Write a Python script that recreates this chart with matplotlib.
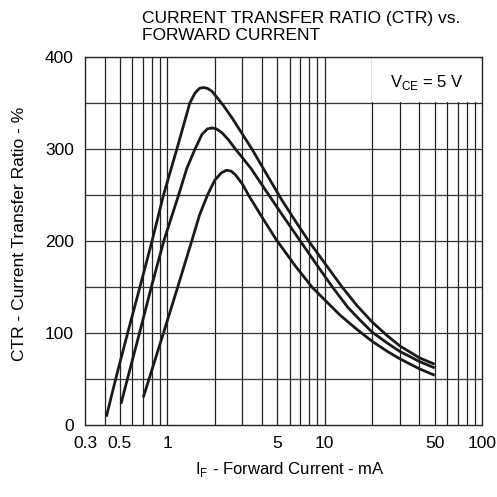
import matplotlib
matplotlib.use("Agg")
import matplotlib.pyplot as plt
from matplotlib.patches import Rectangle
from matplotlib.ticker import FixedLocator, NullFormatter

plt.rcParams['font.family'] = ['Liberation Sans', 'DejaVu Sans']
plt.rcParams['mathtext.fontset'] = 'custom'
plt.rcParams['mathtext.rm'] = 'Liberation Sans'

# CTR curves (IF in mA, CTR in %)
if_top = [0.41, 0.47, 0.56, 0.67, 0.80, 0.946, 1.15, 1.39, 1.50, 1.60, 1.70, 1.80,
          1.92, 2.05, 2.26, 2.60, 3.45, 4.3, 5.37, 6.5, 7.91, 10, 12.9, 16, 20,
          25, 30, 40, 50]
ctr_top = [9, 50, 100, 150, 200, 250, 300, 350, 361, 366, 367, 366,
           363, 357, 348, 333, 300, 272, 244, 222, 200, 176, 150, 130, 112,
           97, 86, 73, 66]

if_mid = [0.508, 0.558, 0.666, 0.792, 0.95, 1.18, 1.33, 1.50, 1.66, 1.80, 1.92, 2.05,
          2.22, 2.45, 2.71, 3.4, 4.3, 5.5, 7.0, 9, 11.2, 14, 17, 20,
          25, 30, 40, 50]
ctr_mid = [23, 50, 100, 150, 200, 250, 279, 300, 316, 322, 323, 322,
           318, 310, 300, 279, 253, 226, 200, 173, 150, 128, 113, 101,
           89, 80, 69, 62]

if_low = [0.704, 0.766, 0.946, 1.165, 1.43, 1.60, 1.80, 2.0, 2.2, 2.37, 2.55, 2.71,
          3.0, 3.28, 4.0, 4.9, 6.5, 8.3, 10, 12.6, 16, 20, 25, 30, 40, 50]
ctr_low = [30, 50, 100, 150, 200, 228, 250, 266, 274, 277, 276, 272,
           262, 250, 226, 202, 173, 150, 136, 119, 104, 91, 80, 72, 61, 54]

x_ticks = [0.3, 0.5, 1, 5, 10, 50, 100]
x_labels = ['0.3', '0.5', '1', '5', '10', '50', '100']
x_grid = [0.4, 0.5, 0.6, 0.7, 0.8, 0.9, 1, 2, 3, 4, 5, 6, 7, 8, 9, 10,
          20, 30, 40, 50, 60, 70, 80, 90]
y_ticks = [0, 100, 200, 300, 400]
y_grid = [50, 100, 150, 200, 250, 300, 350]

fig = plt.figure(figsize=(4.97, 4.97), dpi=100)
ax = fig.add_axes([0.171, 0.145, 0.799, 0.74])

ax.set_xscale('log')
ax.set_xlim(0.3, 100)
ax.set_ylim(0, 400)

for xv in x_grid:
    ax.axvline(xv, color='#222222', lw=0.9, zorder=0.5)
for yv in y_grid:
    ax.axhline(yv, color='#333333', lw=0.9, zorder=0.5)

# white label area in the upper right corner
ax.add_patch(Rectangle((0.722, 0.877), 0.3, 0.2, transform=ax.transAxes,
                       facecolor='white', edgecolor='none', zorder=1))
ax.text(0.861, 0.932, r'V$_{\mathregular{CE}}$ = 5 V', transform=ax.transAxes,
        ha='center', va='center', fontsize=12, zorder=3)

for xs, ys in [(if_top, ctr_top), (if_mid, ctr_mid), (if_low, ctr_low)]:
    ax.plot(xs, ys, color='#1a1a1a', lw=2.0, zorder=2,
            solid_capstyle='butt', solid_joinstyle='round')

ax.xaxis.set_major_locator(FixedLocator(x_ticks))
ax.xaxis.set_minor_locator(FixedLocator([]))
ax.xaxis.set_minor_formatter(NullFormatter())
ax.set_xticklabels(x_labels)
ax.set_yticks(y_ticks)
ax.tick_params(axis='both', which='both', length=0, labelsize=12.5)
ax.tick_params(axis='x', pad=8)
ax.tick_params(axis='y', pad=8)

for sp in ax.spines.values():
    sp.set_color('#222222')
    sp.set_linewidth(1.0)

ax.set_ylabel('CTR - Current Transfer Ratio - %', fontsize=12.5)
ax.yaxis.set_label_coords(-0.146, 0.52)
ax.set_xlabel(r'I$_{\mathregular{F}}$ - Forward Current - mA', fontsize=12)
ax.xaxis.set_label_coords(0.516, -0.095)

fig.text(0.286, 0.978, 'CURRENT TRANSFER RATIO (CTR) vs.\nFORWARD CURRENT',
         ha='left', va='top', fontsize=12.5, linespacing=1.15)

fig.savefig('out.png', dpi=100)
